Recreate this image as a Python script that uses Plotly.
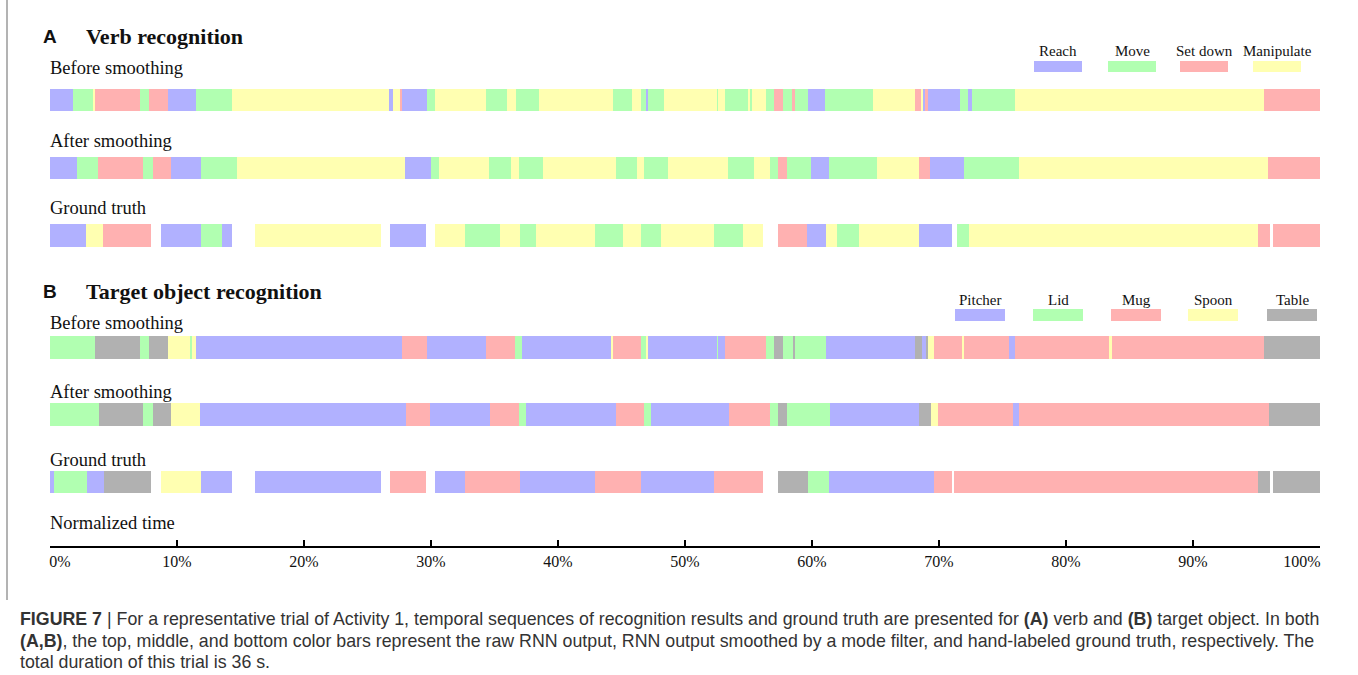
import plotly.graph_objects as go

# ---------------- data (percent of normalized time) ----------------
tick_vals = [0, 10, 20, 30, 40, 50, 60, 70, 80, 90, 100]
tick_text = ["0%", "10%", "20%", "30%", "40%", "50%", "60%", "70%", "80%", "90%", "100%"]

verb_classes = ["Reach", "Move", "Set down", "Manipulate"]
object_classes = ["Pitcher", "Lid", "Mug", "Spoon", "Table"]

# verb codes: R=Reach, M=Move, S=Set down, P=Manipulate, "" = unlabeled gap
verb_before_labels = ["R", "M", "P", "S", "M", "S", "R", "M", "P", "R", "P", "S", "R", "M", "P", "M", "P", "M",
                      "P", "M", "P", "M", "R", "M", "P", "M", "P", "M", "P", "M", "P", "M", "S", "M", "S", "M",
                      "R", "M", "P", "S", "P", "R", "S", "R", "M", "R", "M", "P", "S"]
verb_before_bounds = [0, 1.8, 3.4, 3.55, 7.1, 7.8, 9.3, 11.5, 14.35, 26.7, 27.0, 27.6, 27.75, 29.65, 30.3, 34.3,
                      35.95, 36.7, 38.5, 44.3, 45.8, 46.5, 46.9, 47.1, 48.35, 52.5, 52.6, 53.15, 55.0, 55.15,
                      55.3, 56.35, 57.0, 57.75, 58.5, 58.65, 59.65, 61.0, 64.8, 68.1, 68.6, 68.75, 68.9, 69.15,
                      71.65, 72.3, 72.6, 76.0, 95.6, 100]

verb_after_labels = ["R", "M", "S", "M", "S", "R", "M", "P", "R", "M", "P", "M", "P", "M", "P", "M", "P", "M",
                     "P", "M", "P", "M", "S", "M", "R", "M", "P", "S", "R", "M", "P", "S"]
verb_after_bounds = [0, 2.1, 3.8, 7.35, 8.1, 9.55, 11.9, 14.7, 27.95, 30.0, 30.6, 34.6, 36.3, 36.95, 38.85,
                     44.55, 46.2, 46.75, 48.7, 53.4, 55.45, 56.7, 57.35, 58.0, 59.9, 61.35, 65.15, 68.4, 69.3,
                     72.0, 76.3, 95.9, 100]

verb_truth_labels = ["R", "P", "S", "", "R", "M", "R", "", "P", "", "R", "", "P", "M", "P", "M", "P", "M", "P",
                     "M", "P", "M", "P", "", "S", "R", "P", "M", "P", "R", "", "M", "P", "S", "", "S"]
verb_truth_bounds = [0, 2.85, 4.2, 7.95, 8.75, 11.9, 13.55, 14.35, 16.15, 26.05, 26.75, 29.6, 30.3, 32.7, 35.4,
                     37.0, 38.3, 42.9, 45.1, 46.5, 48.1, 52.3, 54.6, 56.15, 57.35, 59.6, 61.1, 61.95, 63.7,
                     68.45, 71.05, 71.4, 72.35, 95.1, 96.05, 96.3, 100]

# object codes: P=Pitcher, L=Lid, G=Mug, S=Spoon, T=Table, "" = unlabeled gap
object_before_labels = ["L", "T", "L", "T", "S", "L", "S", "P", "G", "P", "G", "L", "P", "S", "G", "L", "S", "P",
                        "L", "P", "G", "L", "T", "L", "T", "L", "P", "T", "P", "T", "S", "G", "S", "G", "P", "G",
                        "S", "G", "T"]
object_before_bounds = [0, 3.55, 7.1, 7.8, 9.3, 11.0, 11.2, 11.5, 27.7, 29.65, 34.3, 36.65, 37.2, 44.2, 44.3,
                        46.5, 47.0, 47.1, 52.5, 52.6, 53.15, 56.4, 57.0, 57.7, 58.5, 58.7, 61.1, 68.1, 68.7,
                        68.95, 69.15, 69.6, 71.85, 72.0, 75.5, 76.0, 83.4, 83.65, 95.6, 100]

object_after_labels = ["L", "T", "L", "T", "S", "P", "G", "P", "G", "L", "P", "G", "L", "P", "G", "L", "T", "L",
                       "P", "T", "S", "G", "P", "G", "T"]
object_after_bounds = [0, 3.85, 7.35, 8.1, 9.55, 11.8, 28.0, 29.95, 34.65, 36.9, 37.5, 44.55, 46.75, 47.3, 53.45,
                       56.7, 57.35, 58.0, 61.4, 68.4, 69.35, 69.9, 75.8, 76.3, 95.95, 100]

object_truth_labels = ["P", "L", "P", "T", "", "S", "P", "", "P", "", "G", "", "P", "G", "P", "G", "P", "G", "",
                       "T", "L", "P", "G", "", "G", "T", "", "T"]
object_truth_bounds = [0, 0.3, 2.9, 4.25, 7.95, 8.75, 11.9, 14.35, 16.15, 26.05, 26.75, 29.6, 30.3, 32.7, 37.0,
                       42.95, 46.5, 52.3, 56.15, 57.35, 59.65, 61.3, 69.6, 71.05, 71.15, 95.1, 96.05, 96.3, 100]

verb_codes = {"R": "Reach", "M": "Move", "S": "Set down", "P": "Manipulate"}
object_codes = {"P": "Pitcher", "L": "Lid", "G": "Mug", "S": "Spoon", "T": "Table"}

# ---------------- styling / layout ----------------
W, H = 1358, 675
PLOT_L, PLOT_R, PLOT_B = 50, 1320, 546          # pixel extent of the time axis
SERIF = "Liberation Serif"
SANS = "Liberation Sans"
NB = "\u00a0"

colors = {
    "Reach": "#B1B1FF", "Move": "#B1FFB1", "Set down": "#FFB1B1", "Manipulate": "#FFFFB1",
    "Pitcher": "#B1B1FF", "Lid": "#B1FFB1", "Mug": "#FFB1B1", "Spoon": "#FFFFB1", "Table": "#B1B1B1",
}

# row centre positions (pixel units on the hidden y axis)
row_y = {
    "verb_before": 100.0, "verb_after": 167.8, "verb_truth": 235.3,
    "object_before": 347.3, "object_after": 414.7, "object_truth": 482.2,
}
BAR_H = 22.5

rows = [
    ("verb_before", verb_before_labels, verb_before_bounds, verb_codes),
    ("verb_after", verb_after_labels, verb_after_bounds, verb_codes),
    ("verb_truth", verb_truth_labels, verb_truth_bounds, verb_codes),
    ("object_before", object_before_labels, object_before_bounds, object_codes),
    ("object_after", object_after_labels, object_after_bounds, object_codes),
    ("object_truth", object_truth_labels, object_truth_bounds, object_codes),
]

segs = {}
for name, labels, bounds, codes in rows:
    for i, code in enumerate(labels):
        if not code:
            continue
        cls = codes[code]
        d = segs.setdefault((name.split("_")[0], cls), {"y": [], "base": [], "x": []})
        d["y"].append(row_y[name])
        d["base"].append(bounds[i])
        d["x"].append(bounds[i + 1] - bounds[i])

fig = go.Figure()
for (group, cls), d in segs.items():
    fig.add_trace(go.Bar(
        orientation="h", y=d["y"], x=d["x"], base=d["base"], width=BAR_H,
        marker=dict(color=colors[cls], line=dict(width=0)),
        name=cls, showlegend=False,
        hovertemplate=cls + ": %{base:.1f}% + %{x:.1f}%<extra></extra>",
    ))


def px(x):
    return (x - PLOT_L) / (PLOT_R - PLOT_L)


def py(y):
    return (PLOT_B - y) / PLOT_B


annotations = []
shapes = []


def text(x, y, s, size=17, family=SERIF, anchor="left", color="#111"):
    annotations.append(dict(x=px(x), y=py(y), xref="paper", yref="paper", text=s, showarrow=False,
                            xanchor=anchor, yanchor="middle", font=dict(family=family, size=size, color=color)))


# panel headings
text(41, 37, "<b>A</b>", 19, SANS)
text(84, 37, "<b>Verb recognition</b>", 22)
text(41, 291, "<b>B</b>", 19, SANS)
text(84, 291, "<b>Target object recognition</b>", 22)

for y, s in [(68, "Before smoothing"), (141, "After smoothing"), (208, "Ground truth"),
             (323, "Before smoothing"), (392, "After smoothing"), (460, "Ground truth"),
             (523, "Normalized time")]:
    text(48, y, s, 18.5)

# legends (label above swatch)
verb_legend_x = [1034, 1108, 1180, 1253]
for cls, x0 in zip(verb_classes, verb_legend_x):
    text(x0 + 24, 51, cls, 15, anchor="center")
    shapes.append(dict(type="rect", xref="paper", yref="paper", x0=px(x0), x1=px(x0 + 48),
                       y0=py(72), y1=py(61), fillcolor=colors[cls], line=dict(width=0)))

object_legend_x = [955, 1033, 1111, 1188, 1267]
for cls, x0 in zip(object_classes, object_legend_x):
    text(x0 + 25, 300, cls, 15, anchor="center")
    shapes.append(dict(type="rect", xref="paper", yref="paper", x0=px(x0), x1=px(x0 + 50),
                       y0=py(321), y1=py(309), fillcolor=colors[cls], line=dict(width=0)))

# figure frame (left edge)
shapes.append(dict(type="line", xref="paper", yref="paper", x0=px(7), x1=px(7), y0=py(0), y1=py(600),
                   line=dict(color="#9a9a9a", width=1.5)))

# caption
cap_lines = [
    "<b>FIGURE 7</b> | For a representative trial of Activity 1, temporal sequences of recognition results and "
    "ground truth are presented for <b>(A)</b> verb and <b>(B)</b> target object. In both",
    "<b>(A,B)</b>, the top, middle, and bottom color bars represent the raw RNN output, RNN output smoothed by a "
    "mode filter, and hand-labeled ground truth, respectively. The",
    "total duration of this trial is 36 s.",
]
for y, s in zip([619, 641, 662], cap_lines):
    text(18, y, s, 17.8, SANS, color="#333")

# end tick labels sit inside the axis span, as in the original
tick_labels_shown = list(tick_text)
tick_labels_shown[0] = NB * 5 + tick_labels_shown[0]
tick_labels_shown[-1] = tick_labels_shown[-1] + NB * 9

fig.update_layout(
    width=W, height=H,
    margin=dict(l=PLOT_L, r=W - PLOT_R, t=0, b=H - PLOT_B),
    paper_bgcolor="white", plot_bgcolor="white",
    barmode="overlay", bargap=0,
    xaxis=dict(range=[0, 100], tickvals=tick_vals, ticktext=tick_labels_shown, ticks="inside", ticklen=6,
               tickwidth=2, tickcolor="black", showline=True, linecolor="black", linewidth=2,
               showgrid=False, zeroline=False, fixedrange=True,
               tickfont=dict(family=SERIF, size=16, color="#111")),
    yaxis=dict(range=[PLOT_B, 0], visible=False, fixedrange=True),
    annotations=annotations, shapes=shapes,
)

fig.write_html("out.html", config={"displayModeBar": False},
               post_script="document.body.style.margin='0';")
